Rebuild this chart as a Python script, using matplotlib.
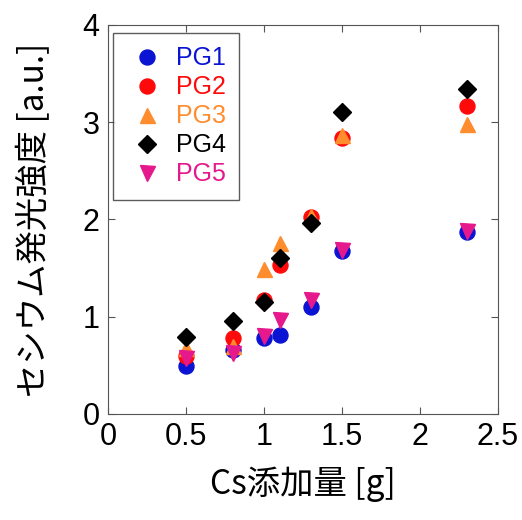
import matplotlib
matplotlib.use("Agg")
import matplotlib.pyplot as plt

plt.rcParams['font.family'] = ['Liberation Sans', 'Noto Sans CJK JP', 'DejaVu Sans']

# Cs添加量 [g]
cs_amount = [0.5, 0.8, 1.0, 1.1, 1.3, 1.5, 2.3]

# セシウム発光強度 [a.u.]
pg1 = [0.49, 0.66, 0.78, 0.81, 1.10, 1.68, 1.87]
pg2 = [0.60, 0.78, 1.17, 1.53, 2.02, 2.84, 3.17]
pg3 = [0.68, 0.70, 1.49, 1.76, 2.04, 2.87, 2.98]
pg4 = [0.79, 0.96, 1.15, 1.60, 1.96, 3.10, 3.34]
pg5 = [0.58, 0.63, 0.80, 0.97, 1.17, 1.69, 1.88]

series = [
    ("PG1", pg1, 'o', '#0a14d2'),
    ("PG2", pg2, 'o', '#ff0a0a'),
    ("PG3", pg3, '^', '#ff8c2d'),
    ("PG4", pg4, 'D', '#000000'),
    ("PG5", pg5, 'v', '#e6198c'),
]

fig = plt.figure(figsize=(5.22, 5.20), dpi=100)
ax = fig.add_axes([0.207, 0.204, 0.747, 0.748])

for name, vals, mk, col in series:
    ms = 8.7 if mk == 'D' else 10.8
    ax.plot(cs_amount, vals, linestyle='none', marker=mk, markersize=ms,
            color=col, markeredgecolor=col, label=name)

ax.set_xlim(0, 2.5)
ax.set_ylim(0, 4)
ax.set_xticks([0, 0.5, 1, 1.5, 2, 2.5])
ax.set_xticklabels(['0', '0.5', '1', '1.5', '2', '2.5'])
ax.set_yticks([0, 1, 2, 3, 4])
ax.tick_params(direction='in', top=True, right=True, labelsize=22, length=5,
               color='#555555', pad=6)
for sp in ax.spines.values():
    sp.set_color('#555555')

cjk = ['Noto Sans CJK JP', 'DejaVu Sans']
ax.set_xlabel('Cs添加量 [g]', fontsize=24, labelpad=10, family=cjk)
ax.set_ylabel('セシウム発光強度 [a.u.]', fontsize=24, labelpad=22, family=cjk)

leg = ax.legend(loc='upper left', fontsize=18, frameon=True, fancybox=False,
                edgecolor='#333333', handlelength=1.6, handletextpad=0.35,
                borderpad=0.55, labelspacing=0.2, borderaxespad=0,
                bbox_to_anchor=(0.013, 0.98))
leg.get_frame().set_linewidth(1.0)
for txt, (_, _, _, col) in zip(leg.get_texts(), series):
    txt.set_color(col)

fig.savefig('out.png', dpi=100)
